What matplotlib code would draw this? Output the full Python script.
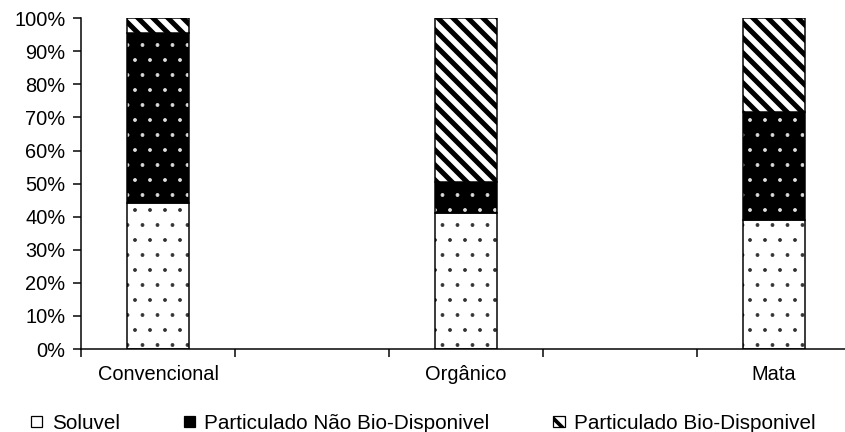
import numpy as np
import matplotlib
matplotlib.use("Agg")
import matplotlib.pyplot as plt
from matplotlib.patches import Patch

# data (percent of total)
categories = ["Convencional", "Orgânico", "Mata"]
soluvel = [44.0, 41.0, 39.0]
nao_bio = [51.5, 9.5, 32.5]
bio = [4.5, 49.5, 28.5]
series_names = ["Soluvel", "Particulado Não Bio-Disponivel", "Particulado Bio-Disponivel"]
y_ticks = [0, 10, 20, 30, 40, 50, 60, 70, 80, 90, 100]

plt.rcParams['font.family'] = ['Liberation Sans', 'DejaVu Sans']
plt.rcParams['font.size'] = 16

DPI = 90
fig = plt.figure(figsize=(845 / DPI, 432 / DPI), dpi=DPI)
ax = fig.add_axes([0.0959, 0.192, 0.911, 0.766])

x = np.arange(len(categories))
w = 0.2
bottom2 = np.array(soluvel)
bottom3 = bottom2 + np.array(nao_bio)
lw = 1.2

with plt.rc_context({'hatch.linewidth': 0.6}):
    b1 = ax.bar(x, soluvel, w, color='white', edgecolor='#333333', hatch='.', linewidth=0)
    b2 = ax.bar(x, nao_bio, w, bottom=bottom2, color='black', edgecolor='#dddddd',
                hatch='.', linewidth=0)
ax.bar(x, soluvel, w, fill=False, edgecolor='black', linewidth=lw)
ax.bar(x, nao_bio, w, bottom=bottom2, fill=False, edgecolor='black', linewidth=lw)
with plt.rc_context({'hatch.linewidth': 4.0}):
    b3 = ax.bar(x, bio, w, bottom=bottom3, color='white', edgecolor='black',
                hatch='\\\\', linewidth=lw)

ax.set_xlim(-0.25, 2.25)
ax.set_ylim(0, 100)
ax.set_xticks(x, categories)
ax.set_xticks(np.arange(-0.25, 2.3, 0.5), minor=True)
ax.tick_params(axis='x', which='major', length=0, pad=13)
ax.tick_params(axis='x', which='minor', length=6.4, width=lw, direction='out')
ax.set_yticks(y_ticks)
ax.yaxis.set_major_formatter(lambda v, pos: f"{v:.0f}%")
ax.tick_params(axis='y', length=6.4, width=lw, pad=6)

for s in ['top', 'right']:
    ax.spines[s].set_visible(False)
for s in ['left', 'bottom']:
    ax.spines[s].set_linewidth(lw)

with plt.rc_context({'hatch.linewidth': 3.0}):
    handles = [
        Patch(facecolor='white', edgecolor='black', linewidth=1.0),
        Patch(facecolor='black', edgecolor='black', linewidth=1.0),
        Patch(facecolor='white', edgecolor='black', linewidth=1.0, hatch='\\\\'),
    ]
    fig.legend(handles, series_names, loc='center',
               bbox_to_anchor=(0.501, 0.02), ncol=3, frameon=False, fontsize=16.5,
               handlelength=0.55, handleheight=0.5, handletextpad=0.45,
               columnspacing=3.1)

fig.savefig("out.png", dpi=DPI)
